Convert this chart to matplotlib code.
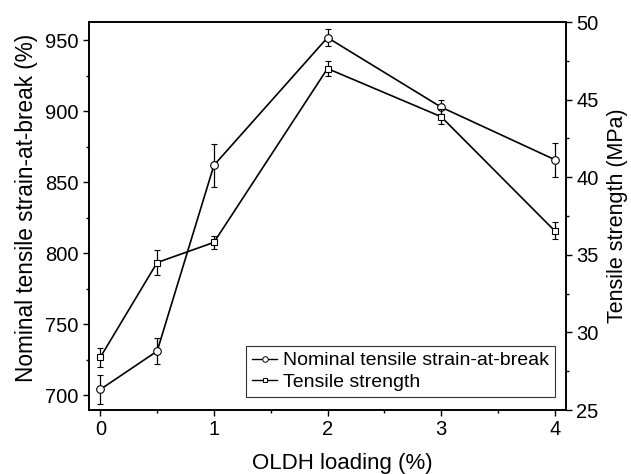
import numpy as np
import matplotlib.pyplot as plt
from matplotlib.ticker import MultipleLocator
from matplotlib.lines import Line2D

plt.rcParams['font.family'] = ['Liberation Sans', 'DejaVu Sans']

loading = [0, 0.5, 1, 2, 3, 4]
strain = [704, 731, 862, 952, 903, 866]
strain_err = [10, 9, 15, 6, 5, 12]
strength = [28.4, 34.5, 35.8, 47.0, 43.9, 36.55]
strength_err = [0.6, 0.8, 0.4, 0.5, 0.5, 0.55]

fig = plt.figure(figsize=(6.31, 4.74), dpi=100)
ax = fig.add_axes([89 / 631, 1 - 410 / 474, (566 - 89) / 631, (410 - 22) / 474])
ax2 = ax.twinx()

kw = dict(color='black', lw=1.2, markersize=5.5, markerfacecolor='white',
          markeredgewidth=0.8, capsize=2.5, elinewidth=0.9, capthick=0.9)
ax.errorbar(loading, strain, yerr=strain_err, marker='o', **kw)
ax2.errorbar(loading, strength, yerr=strength_err, marker='s', **dict(kw, markersize=5))

ax.set_xlim(-0.1, 4.1)
ax.set_ylim(689.5, 963)
ax2.set_ylim(25, 50)

ax.xaxis.set_major_locator(MultipleLocator(1))
ax.xaxis.set_minor_locator(MultipleLocator(0.5))
ax.yaxis.set_major_locator(MultipleLocator(50))
ax.yaxis.set_minor_locator(MultipleLocator(25))
ax2.yaxis.set_major_locator(MultipleLocator(5))
ax2.yaxis.set_minor_locator(MultipleLocator(2.5))

for a in (ax, ax2):
    a.tick_params(which='major', direction='out', length=4, width=1, labelsize=14.5)
    a.tick_params(which='minor', direction='out', length=2.5, width=1)
    for s in a.spines.values():
        s.set_linewidth(1.2)

ax.set_xlabel('OLDH loading (%)', fontsize=16, labelpad=10)
ax.xaxis.label.set_x(0.531)
ax.set_ylabel('Nominal tensile strain-at-break (%)', fontsize=16.3, labelpad=5)
ax.yaxis.label.set_y(0.52)
ax2.set_ylabel('Tensile strength (MPa)', fontsize=15.5, labelpad=6)

h1 = Line2D([], [], color='black', lw=1, marker='o', markersize=4,
            markerfacecolor='white', markeredgewidth=0.7)
h2 = Line2D([], [], color='black', lw=1, marker='s', markersize=3.5,
            markerfacecolor='white', markeredgewidth=0.7)
leg = ax.legend([h1, h2], ['Nominal tensile strain-at-break', 'Tensile strength'],
                loc='lower right', bbox_to_anchor=(0.977, 0.034), fontsize=14,
                frameon=True, fancybox=False, edgecolor='black', handlelength=1.3,
                handletextpad=0.3, borderpad=0.3, labelspacing=0.2, borderaxespad=0)
leg.get_frame().set_linewidth(0.8)

fig.savefig('out.png', dpi=100)
